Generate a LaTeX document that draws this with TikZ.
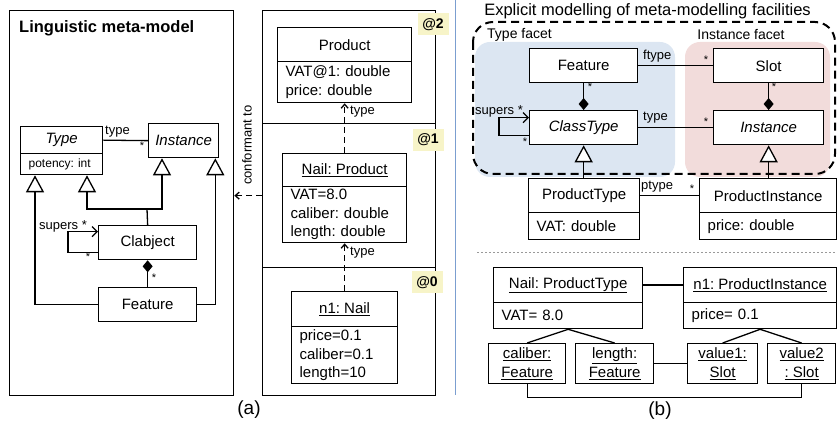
\documentclass[tikz,border=0pt]{standalone}
\usepackage{fontspec}
\setmainfont{Liberation Sans}
\usetikzlibrary{arrows.meta,calc}
\definecolor{facetblue}{HTML}{DCE6F2}
\definecolor{facetpink}{HTML}{F2DCDB}
\definecolor{lvlyellow}{HTML}{F7F4C8}
\definecolor{sepblue}{HTML}{7B9ED0}
\frenchspacing
\begin{document}
\begin{tikzpicture}[x=1pt,y=-1pt,
  f15/.style={font=\fontsize{15}{18.5}\selectfont},
  box/.style={draw, line width=1.3pt, fill=white, inner sep=0pt, anchor=north west, f15},
  attr/.style={box, align=left, inner xsep=8pt},
  sbox/.style={box, align=center, font=\fontsize{15}{19}\selectfont},
  panel/.style={draw, line width=1.3pt, inner sep=0pt, anchor=north west},
  lbl/.style={font=\fontsize{13}{15}\selectfont, inner sep=0pt},
  star/.style={font=\fontsize{11}{13}\selectfont, inner sep=0pt},
  lvl/.style={fill=lvlyellow, font=\bfseries\fontsize{14}{16}\selectfont, minimum width=31pt, minimum height=22pt, inner sep=0pt},
  conn/.style={line width=1.3pt},
  gen/.style={conn, -{Triangle[open, length=17pt, width=18pt, fill=white]}},
  comp/.style={conn, {Diamond[length=12pt, width=10pt]}-},
  barb/.style={conn, -{Straight Barb[length=5pt, width=10pt]}},
  dbarb/.style={conn, dash pattern=on 6pt off 4pt, -{Straight Barb[length=4pt, width=7pt]}},
  caption/.style={font=\fontsize{19}{22}\selectfont, inner sep=0pt}
]
\useasboundingbox (0,0) rectangle (837,427);

% ---------------- (a) left panel ----------------
\node[panel, minimum width=224pt, minimum height=385pt] (Lpanel) at (9,10) {};
\node[anchor=west, inner sep=0pt, font=\bfseries\fontsize{16.5}{19}\selectfont] (Ltitle) at (19,28) {Linguistic meta-model};
\node[box, minimum width=82pt, minimum height=27pt] (Ltype) at (20,126) {\textit{Type}};
\node[attr, text width=66pt, minimum height=21pt, font=\fontsize{12}{14}\selectfont] (Ltypea) at (20,153) {potency: int};
\node[box, minimum width=70pt, minimum height=34pt] (Linst) at (148,123) {\textit{Instance}};
\node[box, minimum width=98pt, minimum height=34pt] (Lclab) at (98,225) {Clabject};
\node[box, minimum width=98pt, minimum height=34pt] (Lfeat) at (98,287) {Feature};

\coordinate (Ljn) at (147,209);
\draw[conn] (Lclab.north) -- (Ljn);
\draw[gen] (Ljn) -| ([xshift=67pt]Ltypea.south west);
\draw[gen] (Ljn) -| ([xshift=14pt]Linst.south west);
\draw[gen] (Lfeat.west) -| ([xshift=15pt]Ltypea.south west);
\draw[gen] (Lfeat.east) -| ([xshift=-4pt]Linst.south east);
\draw[conn] (Ltype.east) -- (Linst.west);
\draw[comp] (Lclab.south) -- (Lfeat.north);
\draw[barb] ([yshift=-10pt]Lclab.west) -- ++(-30,0) |- ([yshift=11pt]Lclab.west);

\node[lbl, anchor=west] (Ltypelbl) at (105,132) {type};
\node[star] (Lstar1) at (142,146) {*};
\node[lbl, anchor=west] (Lsupers) at (39,226) {supers *};
\node[star] (Lstar2) at (88,257) {*};
\node[star] (Lstar3) at (154,278) {*};

% ---------------- (a) level stack ----------------
\node[panel, minimum width=173pt, minimum height=113pt] (Mp2) at (262,10) {};
\node[panel, minimum width=173pt, minimum height=144pt] (Mp1) at (262,123) {};
\node[panel, minimum width=173pt, minimum height=128pt] (Mp0) at (262,267) {};
\node[lvl] (Lv2) at (433,24.5) {@2};
\node[lvl] (Lv1) at (428,140) {@1};
\node[lvl] (Lv0) at (427,282.5) {@0};

\node[box, minimum width=134pt, minimum height=34pt] (Mprod) at (277,27) {Product};
\node[attr, text width=118pt, minimum height=41pt] (Mproda) at (277,61) {VAT@1: double\\price: double};
\node[box, minimum width=124pt, minimum height=33pt] (Mnail) at (282,153) {\underline{Nail: Product}};
\node[attr, text width=108pt, minimum height=56pt] (Mnaila) at (282,186) {VAT=8.0\\caliber: double\\length: double};
\node[box, minimum width=106pt, minimum height=35pt] (Mn1) at (291,291) {\underline{n1: Nail}};
\node[attr, text width=90pt, minimum height=57pt] (Mn1a) at (291,326) {price=0.1\\caliber=0.1\\length=10};

\draw[dbarb] (Mnail.north) -- (Mproda.south);
\draw[dbarb] (Mn1.north) -- (Mnaila.south);
\draw[dbarb] (Mp1.west) -- (Mp1.west -| Lpanel.east);
\node[lbl, anchor=west] (Mtype1) at (350,112) {type};
\node[lbl, anchor=west] (Mtype2) at (350,253) {type};
\node[lbl, rotate=90] (Mconf) at (247,145) {conformant to};

\node[caption] (capa) at (249,410) {(a)};

% ---------------- separator ----------------
\draw[sepblue, line width=0.8pt] (455,0) -- (455,395);

% ---------------- (b) ----------------
\node[inner sep=0pt, font=\fontsize{16.5}{19}\selectfont] (Rtitle) at (647.5,11) {Explicit modelling of meta-modelling facilities};
\fill[facetblue, rounded corners=15pt] (475,42) rectangle (675,177);
\fill[facetpink, rounded corners=15pt] (685,42) rectangle (830,177);
\draw[line width=2pt, dash pattern=on 8pt off 5pt, rounded corners=20pt] (473,22) rectangle (835,174);
\node[font=\fontsize{14}{16}\selectfont, inner sep=0pt, anchor=west] (Rtf) at (487,35) {Type facet};
\node[font=\fontsize{14}{16}\selectfont, inner sep=0pt] (Rif) at (741,35) {Instance facet};

\node[box, minimum width=108pt, minimum height=34pt] (Rfeat) at (529,48) {Feature};
\node[box, minimum width=110pt, minimum height=34pt] (Rslot) at (713,48) {Slot};
\node[box, minimum width=108pt, minimum height=34pt] (Rct) at (529,110) {\textit{ClassType}};
\node[box, minimum width=110pt, minimum height=34pt] (Rinst) at (713,110) {\textit{Instance}};
\node[box, minimum width=111pt, minimum height=34pt] (Rpt) at (528,178) {ProductType};
\node[attr, text width=95pt, minimum height=27pt] (Rpta) at (528,212) {VAT: double};
\node[box, minimum width=137pt, minimum height=34pt] (Rpi) at (699,178) {ProductInstance};
\node[attr, text width=121pt, minimum height=27pt] (Rpia) at (699,212) {price: double};

\draw[conn] (Rfeat.east) -- (Rslot.west);
\draw[conn] (Rct.east) -- (Rinst.west);
\draw[comp] (Rct.north) -- (Rfeat.south);
\draw[comp] (Rinst.north) -- (Rslot.south);
\draw[barb] ([yshift=-8pt]Rct.west) -- ++(-30,0) |- ([yshift=10pt]Rct.west);
\draw[gen] (Rct.south |- Rpt.north) -- (Rct.south);
\draw[gen] (Rinst.south |- Rpi.north) -- (Rinst.south);
\draw[conn] (Rpt.east) -- (Rpi.west);

\node[lbl, anchor=west] (Rftype) at (643,56) {ftype};
\node[star] (Rs1) at (706,60) {*};
\node[lbl, anchor=west] (Rtype) at (643,118) {type};
\node[star] (Rs2) at (706,122) {*};
\node[star] (Rs3) at (590,87) {*};
\node[star] (Rs4) at (774,87) {*};
\node[lbl, anchor=west] (Rsupers) at (475,111) {supers *};
\node[star] (Rs5) at (525,142) {*};
\node[lbl, anchor=west] (Rptype) at (641,187) {ptype};
\node[star] (Rs6) at (692,189) {*};

\draw[gray!80, line width=1pt, dash pattern=on 2pt off 2pt] (477,253) -- (837,253);

\node[box, minimum width=149pt, minimum height=35pt] (Bnpt) at (493,267) {\underline{Nail: ProductType}};
\node[attr, text width=133pt, minimum height=26pt] (Bnpta) at (493,302) {VAT= 8.0};
\node[box, minimum width=153pt, minimum height=35pt] (Bn1) at (683,267) {\underline{n1: ProductInstance}};
\node[attr, text width=137pt, minimum height=26pt] (Bn1a) at (683,302) {price= 0.1};
\node[sbox, minimum width=77pt, minimum height=40pt] (Bcal) at (488,343) {\underline{caliber:}\\\underline{Feature}};
\node[sbox, minimum width=78pt, minimum height=40pt] (Blen) at (575,343) {\underline{length:}\\\underline{Feature}};
\node[sbox, minimum width=70pt, minimum height=40pt] (Bv1) at (687,343) {\underline{value1:}\\\underline{Slot}};
\node[sbox, minimum width=68pt, minimum height=40pt] (Bv2) at (767,343) {\underline{value2}\\\underline{: Slot}};

\draw[conn] (Bnpt.east) -- (Bn1.west);
\draw[conn] (Bnpta.south) -- (Bcal.north);
\draw[conn] (Bnpta.south) -- (Blen.north);
\draw[conn] (Bn1a.south) -- (Bv1.north);
\draw[conn] (Bn1a.south) -- (Bv2.north);
\draw[conn] (Blen.east) -- (Bv1.west);
\draw[conn] (Bcal.south) -- ++(0,13) -| (Bv2.south);

\node[caption] (capb) at (660,411) {(b)};
\end{tikzpicture}
\end{document}
